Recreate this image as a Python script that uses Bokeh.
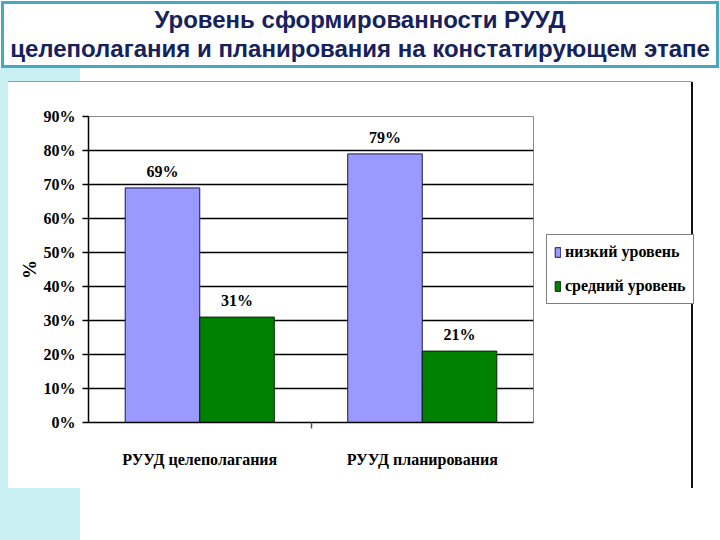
from bokeh.plotting import figure
from bokeh.layouts import column
from bokeh.models import (Range1d, LinearAxis, FixedTicker, PrintfTickFormatter,
                          ColumnDataSource, Legend, LegendItem, Div)
from bokeh.core.properties import value
from bokeh.embed import file_html
from bokeh.resources import INLINE

# ---- data ----
title_lines = ["Уровень сформированности РУУД",
               "целеполагания и планирования на констатирующем этапе"]
categories = ["РУУД целеполагания", "РУУД планирования"]
series_names = ["низкий уровень", "средний уровень"]
low_values = [69, 79]
mid_values = [31, 21]
y_ticks = [0, 10, 20, 30, 40, 50, 60, 70, 80, 90]
y_axis_label = "%"

# ---- styles ----
SERIF = "Liberation Serif"
SANS = "Liberation Sans"
C_LOW = "#9999FF"
C_MID = "#008000"
TEAL = "#45A9C2"
BAR_W = 0.335
W = 720
TH = 68            # title strip height
CH = 540 - TH      # chart figure height

# ================= title strip (real text) =================
title_html = (
    '<div style="position:absolute; left:1px; top:1px; width:718px; height:67px; '
    f'box-sizing:border-box; border:3px solid {TEAL}; background:#ffffff; '
    f"font-family:'{SANS}'; font-weight:bold; font-size:24px; line-height:29px; "
    'color:#15225C; text-align:center; padding-top:1px; white-space:nowrap;">'
    + "<br>".join(title_lines) + "</div>"
)
title_div = Div(text=title_html, width=W, height=TH, margin=0,
                styles={"position": "relative", "background": "#ffffff"})

# ================= chart =================
def rect(color, x, y, w, h):
    return f"linear-gradient({color},{color}) {x}px {y}px / {w}px {h}px no-repeat"

page_background = ", ".join([
    rect("#9a9a9a", 8, 13, 684, 1),    # chart area top edge
    rect("#111111", 691, 14, 2, 406),  # chart area right edge
    rect("#ffffff", 8, 14, 684, 406),  # chart area
    rect("#C8EFF1", 0, 0, 80, CH),     # slide strip
    "#ffffff",
])

n = len(categories)
slot = [i + 0.5 for i in range(n)]          # category slot centres on the x scale
src = ColumnDataSource(dict(
    x_low=[s - BAR_W / 2 for s in slot],
    x_mid=[s + BAR_W / 2 for s in slot],
    low=low_values,
    mid=mid_values,
    low_lbl=[f"{v}%" for v in low_values],
    mid_lbl=[f"{v}%" for v in mid_values],
))

p = figure(frame_width=445, frame_height=306, output_backend="svg", toolbar_location=None,
           x_range=Range1d(0, n), y_range=Range1d(0, max(y_ticks)),
           x_axis_location=None, y_axis_location="left",
           min_border_left=88, min_border_right=187,
           min_border_top=48, min_border_bottom=118,
           background_fill_color="white", border_fill_alpha=0,
           outline_line_color="#8a8a8a", outline_line_width=1,
           styles={"background": page_background})
p.title.visible = False

r_low = p.vbar(x="x_low", top="low", width=BAR_W, source=src,
               fill_color=C_LOW, line_color="#1a1a3a", line_width=1)
r_mid = p.vbar(x="x_mid", top="mid", width=BAR_W, source=src,
               fill_color=C_MID, line_color="#0a200a", line_width=1)

for xc, col in (("x_low", "low"), ("x_mid", "mid")):
    p.text(x=xc, y=col, text=col + "_lbl", source=src,
           text_font=value(SERIF), text_font_style="bold", text_font_size="16px",
           text_align="center", text_baseline="bottom", y_offset=-8, text_color="black")

# y axis & grid
ya = p.yaxis[0]
ya.ticker = FixedTicker(ticks=y_ticks)
ya.formatter = PrintfTickFormatter(format="%d%%")
ya.major_label_text_font = SERIF
ya.major_label_text_font_style = "bold"
ya.major_label_text_font_size = "16px"
ya.major_label_text_color = "black"
ya.major_label_standoff = 7
ya.major_tick_out = 6
ya.major_tick_in = 0
ya.major_tick_line_color = "black"
ya.major_tick_line_width = 1.5
ya.minor_tick_line_color = None
ya.axis_line_color = "black"
ya.axis_line_width = 1.5
ya.axis_label = y_axis_label
ya.axis_label_text_font = SERIF
ya.axis_label_text_font_style = "bold"
ya.axis_label_text_font_size = "19px"
ya.axis_label_text_color = "black"
ya.axis_label_standoff = 1

p.xgrid.visible = False
p.ygrid.grid_line_color = "black"
p.ygrid.grid_line_width = 1.5
p.ygrid.ticker = FixedTicker(ticks=y_ticks)

# x axis: labels at slot centres, small divider ticks at slot boundaries
xa = LinearAxis(ticker=FixedTicker(ticks=slot, minor_ticks=list(range(1, n))),
                major_label_overrides={s: c for s, c in zip(slot, categories)},
                major_tick_line_color=None,
                minor_tick_line_color="#555555", minor_tick_line_width=1.5,
                minor_tick_out=6, minor_tick_in=0,
                axis_line_color="black", axis_line_width=1.5,
                major_label_text_font=SERIF, major_label_text_font_style="bold",
                major_label_text_font_size="16px", major_label_text_color="black",
                major_label_standoff=22)
p.add_layout(xa, "below")

# legend (right side panel)
legend = Legend(items=[LegendItem(label=series_names[0], renderers=[r_low]),
                       LegendItem(label=series_names[1], renderers=[r_mid])],
                location="center_left", orientation="vertical",
                label_text_font=SERIF, label_text_font_style="bold",
                label_text_font_size="16px", label_text_color="black",
                glyph_width=7, glyph_height=12, label_standoff=4,
                label_height=20, spacing=14, padding=7, margin=13,
                border_line_color="black", border_line_width=1,
                background_fill_color="white", background_fill_alpha=1)
p.add_layout(legend, "right")

layout = column(title_div, p, spacing=0)
open("out.html", "w").write(file_html(layout, INLINE))
